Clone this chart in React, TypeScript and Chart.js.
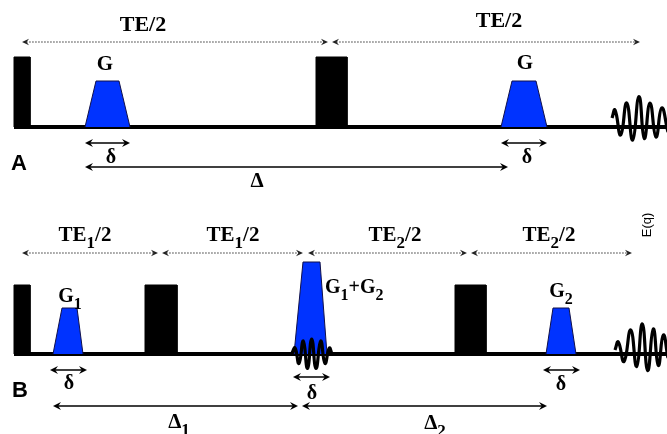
import React, { useEffect, useRef } from "react";
import { Chart, registerables } from "chart.js";

Chart.register(...registerables);

// ---------------- Data (diagram time axis / vertical level axis) ----------------
const baselineLevels = [127, 354]; // panel A, panel B
const axisSpan = [14, 667];

// RF pulses [start, end]
const rfPulsesA = [[14, 30], [316, 347]];
const rfPulsesB = [[14, 30], [145, 177], [455, 486]];
const rfTops = [57, 285];

// Gradient lobes [rampStart, plateauStart, plateauEnd, rampEnd]
const gradTimesA = [[85, 96, 119, 130], [501, 512, 536, 547]];
const gradTopsA = [81, 81];
const gradTimesB = [[53, 62, 77, 83], [294, 303, 320, 327], [546, 553, 569, 576]];
const gradTopsB = [308, 262, 308];

// Echo extremes
const echoAx = [612, 615, 620.7, 626.7, 632.7, 639, 644.3, 650, 656, 661.7, 668];
const echoAy = [118, 110, 135, 103, 140, 96.5, 138.5, 103, 137, 108, 132];
const echoMidX = [292, 295, 299, 303.3, 307.5, 311.7, 316, 320.7, 325, 329.3, 332];
const echoMidY = [353, 348, 363.5, 341, 368.5, 339, 368.5, 341, 363.5, 348, 354];
const echoBx = [615, 618.3, 624, 630.7, 636.7, 642.3, 647.7, 653.3, 658.3, 663.3, 668];
const echoBy = [350, 342, 361.5, 330, 366.5, 324, 370.5, 329, 365.5, 335, 358];

// Timing arrows
const teSpansA = [[22, 328], [332, 640]];
const teLevelA = 42;
const teSpansB = [[22, 158], [162, 303], [308, 467], [471, 632]];
const teLevelB = 253;
const smallDeltaA = [[85, 130, 143], [501, 547, 143]];
const bigDeltaA = [[85, 508, 167]];
const smallDeltaB = [[50, 87, 370], [293, 330, 377], [543, 580, 370]];
const bigDeltaB = [[53, 298, 406], [302, 547, 406]];

// Labels: parts [text, isSubscript], anchor x, baseline y, align, size
type Part = [string, boolean];
const labelParts: Part[][] = [
  [["TE/2", false]],
  [["TE/2", false]],
  [["G", false]],
  [["G", false]],
  [["δ", false]],
  [["δ", false]],
  [["Δ", false]],
  [["TE", false], ["1", true], ["/2", false]],
  [["TE", false], ["1", true], ["/2", false]],
  [["TE", false], ["2", true], ["/2", false]],
  [["TE", false], ["2", true], ["/2", false]],
  [["G", false], ["1", true]],
  [["G", false], ["1", true], ["+G", false], ["2", true]],
  [["G", false], ["2", true]],
  [["δ", false]],
  [["δ", false]],
  [["δ", false]],
  [["Δ", false], ["1", true]],
  [["Δ", false], ["2", true]],
];
const labelX = [143, 499, 105, 525, 111, 527, 257, 85, 233, 395, 549, 70, 325, 561, 69, 312, 561, 179, 435];
const labelY = [31, 27, 70, 69, 163, 163, 187, 241, 241, 241, 241, 302, 293, 297, 389, 399, 390, 428, 429];
const labelAlign = ["center", "center", "center", "center", "center", "center", "center", "center", "center", "center", "center", "center", "left", "center", "center", "center", "center", "center", "center"];
const labelSize = [22, 22, 21, 21, 20, 20, 21, 21, 21, 21, 21, 20, 20, 20, 20, 20, 20, 21, 21];

const panelNames = ["A", "B"];
const panelNameX = [19, 20];
const panelNameY = [170, 397];
const sideLabel = "E(q)";
const sideLabelPos = [647, 225];

const BLUE = "#0033ff";
const SERIF = '"Liberation Serif", "Times New Roman", serif';
const SANS = '"Liberation Sans", Arial, sans-serif';

function pts(xs: number[], ys: number[]) {
  return xs.map((x, i) => ({ x, y: ys[i] }));
}

function rectPts(s: number, e: number, base: number, top: number) {
  return [
    { x: s, y: base },
    { x: s, y: top },
    { x: e, y: top },
    { x: e, y: base },
  ];
}

function trapPts(t: number[], base: number, top: number) {
  return [
    { x: t[0], y: base },
    { x: t[1], y: top },
    { x: t[2], y: top },
    { x: t[3], y: base },
  ];
}

function buildDatasets() {
  const ds: any[] = [];
  baselineLevels.forEach((b) => {
    ds.push({
      data: [{ x: axisSpan[0], y: b }, { x: axisSpan[1], y: b }],
      borderColor: "#000",
      borderWidth: 4,
      fill: false,
      order: 3,
    });
  });
  const rfSets = [rfPulsesA, rfPulsesB];
  rfSets.forEach((set, p) => {
    set.forEach(([s, e]) => {
      ds.push({
        data: rectPts(s, e, baselineLevels[p], rfTops[p]),
        borderColor: "#000",
        backgroundColor: "#000",
        borderWidth: 1,
        fill: { value: baselineLevels[p] },
        order: 2,
      });
    });
  });
  gradTimesA.forEach((t, i) => {
    ds.push({
      data: trapPts(t, baselineLevels[0], gradTopsA[i]),
      borderColor: "#10104a",
      backgroundColor: BLUE,
      borderWidth: 1,
      fill: { value: baselineLevels[0] },
      order: 2,
    });
  });
  gradTimesB.forEach((t, i) => {
    ds.push({
      data: trapPts(t, baselineLevels[1], gradTopsB[i]),
      borderColor: "#10104a",
      backgroundColor: BLUE,
      borderWidth: 1,
      fill: { value: baselineLevels[1] },
      order: 2,
    });
  });
  [
    [echoAx, echoAy],
    [echoMidX, echoMidY],
    [echoBx, echoBy],
  ].forEach(([xs, ys]) => {
    ds.push({
      data: pts(xs, ys),
      borderColor: "#000",
      borderWidth: 3.2,
      fill: false,
      tension: 0.5,
      order: 0,
    });
  });
  return ds;
}

function arrowHead(ctx: CanvasRenderingContext2D, tx: number, ty: number, dir: number, len: number, half: number) {
  ctx.beginPath();
  ctx.moveTo(tx, ty);
  ctx.lineTo(tx - dir * len, ty - half);
  ctx.lineTo(tx - dir * len * 0.65, ty);
  ctx.lineTo(tx - dir * len, ty + half);
  ctx.closePath();
  ctx.fill();
}

function drawArrow(ctx: CanvasRenderingContext2D, x1: number, x2: number, y: number, dotted: boolean) {
  ctx.save();
  ctx.strokeStyle = dotted ? "#333" : "#000";
  ctx.fillStyle = dotted ? "#222" : "#000";
  ctx.lineWidth = dotted ? 1 : 1.5;
  if (dotted) ctx.setLineDash([1.5, 1.5]);
  const len = dotted ? 7 : 8;
  const half = dotted ? 3.2 : 4;
  ctx.beginPath();
  ctx.moveTo(x1 + len * 0.6, y);
  ctx.lineTo(x2 - len * 0.6, y);
  ctx.stroke();
  ctx.setLineDash([]);
  arrowHead(ctx, x1, y, -1, len, half);
  arrowHead(ctx, x2, y, 1, len, half);
  ctx.restore();
}

function drawRich(ctx: CanvasRenderingContext2D, parts: Part[], x: number, y: number, align: string, size: number) {
  const mainFont = `bold ${size}px ${SERIF}`;
  const subFont = `bold ${Math.round(size * 0.8)}px ${SERIF}`;
  const widths = parts.map(([t, sub]) => {
    ctx.font = sub ? subFont : mainFont;
    return ctx.measureText(t).width;
  });
  const total = widths.reduce((a, b) => a + b, 0);
  let cx = align === "center" ? x - total / 2 : x;
  ctx.textAlign = "left";
  ctx.textBaseline = "alphabetic";
  parts.forEach(([t, sub], i) => {
    ctx.font = sub ? subFont : mainFont;
    ctx.fillText(t, cx, sub ? y + size * 0.33 : y);
    cx += widths[i];
  });
}

const diagramPlugin = {
  id: "diagramOverlay",
  afterDatasetsDraw(chart: any) {
    const { ctx, scales } = chart;
    const px = (v: number) => scales.x.getPixelForValue(v);
    const py = (v: number) => scales.y.getPixelForValue(v);
    ctx.save();
    teSpansA.forEach(([a, b]) => drawArrow(ctx, px(a), px(b), py(teLevelA), true));
    teSpansB.forEach(([a, b]) => drawArrow(ctx, px(a), px(b), py(teLevelB), true));
    [...smallDeltaA, ...bigDeltaA, ...smallDeltaB, ...bigDeltaB].forEach(([a, b, l]) =>
      drawArrow(ctx, px(a), px(b), py(l), false)
    );
    ctx.fillStyle = "#000";
    labelParts.forEach((parts, i) => {
      drawRich(ctx, parts, px(labelX[i]), py(labelY[i]), labelAlign[i], labelSize[i]);
    });
    ctx.font = `bold 22px ${SANS}`;
    ctx.textAlign = "center";
    ctx.textBaseline = "alphabetic";
    panelNames.forEach((n, i) => ctx.fillText(n, px(panelNameX[i]), py(panelNameY[i])));
    ctx.save();
    ctx.translate(px(sideLabelPos[0]), py(sideLabelPos[1]));
    ctx.rotate(-Math.PI / 2);
    ctx.font = `13px ${SANS}`;
    ctx.textAlign = "center";
    ctx.textBaseline = "middle";
    ctx.fillText(sideLabel, 0, 0);
    ctx.restore();
    ctx.restore();
  },
};

export default function App() {
  const ref = useRef<HTMLCanvasElement | null>(null);
  useEffect(() => {
    document.body.style.margin = "0";
    document.body.style.background = "#fff";
    const canvas = ref.current;
    if (!canvas) return;
    const chart = new Chart(canvas, {
      type: "line",
      data: { datasets: buildDatasets() },
      options: {
        responsive: false,
        animation: false,
        events: [],
        devicePixelRatio: 1,
        layout: { padding: 0 },
        elements: { point: { radius: 0 }, line: { tension: 0 } },
        scales: {
          x: { type: "linear", min: 0, max: 667, display: false },
          y: { type: "linear", min: 0, max: 434, reverse: true, display: false },
        },
        plugins: { legend: { display: false }, tooltip: { enabled: false } },
      } as any,
      plugins: [diagramPlugin],
    });
    return () => chart.destroy();
  }, []);
  return (
    <div style={{ width: 667, height: 434, background: "#fff" }}>
      <canvas ref={ref} width={667} height={434} style={{ display: "block" }} />
    </div>
  );
}
